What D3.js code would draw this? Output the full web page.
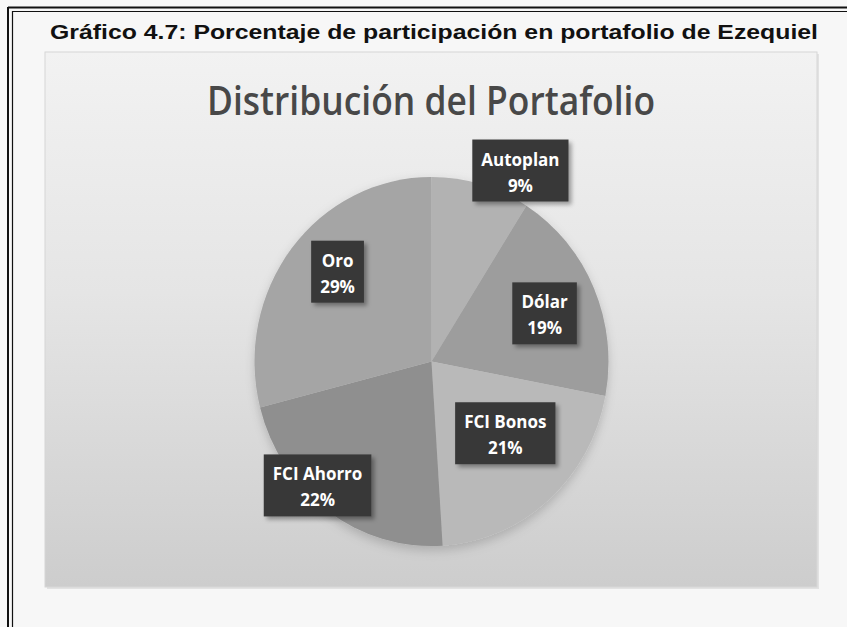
<!DOCTYPE html>
<html>
<head>
<meta charset="utf-8">
<script src="https://cdn.jsdelivr.net/npm/d3@7"></script>
<style>
  html, body { margin: 0; padding: 0; background: #f7f7f7; }
  svg { display: block; }
</style>
</head>
<body>
<svg id="chart" width="847" height="627"></svg>
<script>
// ---- data ----
const categories = ["Autoplan", "Dólar", "FCI Bonos", "FCI Ahorro", "Oro"];
const values = [9, 19, 21, 22, 29];
const percentLabels = ["9%", "19%", "21%", "22%", "29%"];
const sliceColors = ["#b2b2b2", "#9d9d9d", "#b9b9b9", "#8f8f8f", "#a5a5a5"];
const figureTitle = "Gráfico 4.7: Porcentaje de participación en portafolio de Ezequiel";
const chartTitle = "Distribución del Portafolio";

// ---- label layout config (radial factor, angular shift in degrees) ----
const labelRadiusFactor = [1.15, 0.69, 0.57, 0.93, 0.72];
const labelAngleShift = [9.7, 1.2, -5.6, 7.8, 4.7];

const W = 847, H = 627;
const svg = d3.select("#chart");
const defs = svg.append("defs");

// background gradient for chart area
const bg = defs.append("linearGradient").attr("id", "bgGrad")
  .attr("x1", 0).attr("y1", 0).attr("x2", 0).attr("y2", 1);
bg.append("stop").attr("offset", "0%").attr("stop-color", "#f2f2f2");
bg.append("stop").attr("offset", "45%").attr("stop-color", "#e5e5e5");
bg.append("stop").attr("offset", "100%").attr("stop-color", "#cdcdcd");

const shadow = defs.append("filter").attr("id", "boxShadow")
  .attr("x", "-20%").attr("y", "-20%").attr("width", "150%").attr("height", "150%");
shadow.append("feDropShadow").attr("dx", 3).attr("dy", 3).attr("stdDeviation", 2)
  .attr("flood-color", "#000").attr("flood-opacity", 0.35);

const pieShadow = defs.append("filter").attr("id", "pieShadow")
  .attr("x", "-20%").attr("y", "-20%").attr("width", "140%").attr("height", "140%");
pieShadow.append("feDropShadow").attr("dx", 0).attr("dy", 4).attr("stdDeviation", 5)
  .attr("flood-color", "#000").attr("flood-opacity", 0.18);

// page frame: double lines on left and top
svg.append("rect").attr("x", 0).attr("y", 0).attr("width", W).attr("height", H).attr("fill", "#f7f7f7");
const frame = svg.append("g").attr("stroke", "#111").attr("fill", "none");
frame.append("line").attr("x1", 8).attr("x2", W).attr("y1", 7.5).attr("y2", 7.5).attr("stroke-width", 2);
frame.append("line").attr("x1", 12).attr("x2", W).attr("y1", 11.5).attr("y2", 11.5).attr("stroke-width", 1.2);
frame.append("line").attr("x1", 8).attr("x2", 8).attr("y1", 7).attr("y2", H).attr("stroke-width", 2);
frame.append("line").attr("x1", 12.5).attr("x2", 12.5).attr("y1", 11).attr("y2", H).attr("stroke-width", 1.2);

// figure caption
svg.append("text")
  .attr("x", 434).attr("y", 39)
  .attr("text-anchor", "middle")
  .attr("font-family", "Liberation Sans, Arial, sans-serif")
  .attr("font-weight", "bold")
  .attr("font-size", 21)
  .attr("fill", "#111")
  .attr("textLength", 768)
  .attr("lengthAdjust", "spacingAndGlyphs")
  .text(figureTitle);

// chart area
const area = { x: 45, y: 52, w: 772, h: 535 };
svg.append("rect").attr("x", area.x + 2).attr("y", area.y + 2).attr("width", area.w).attr("height", area.h)
  .attr("fill", "#e2e2e2");
svg.append("rect").attr("x", area.x).attr("y", area.y).attr("width", area.w).attr("height", area.h)
  .attr("fill", "url(#bgGrad)").attr("stroke", "#d6d6d6").attr("stroke-width", 1);

// chart title
svg.append("text")
  .attr("x", 431).attr("y", 115)
  .attr("text-anchor", "middle")
  .attr("font-family", "Open Sans, Noto Sans, sans-serif")
  .attr("font-weight", 600)
  .attr("font-size", 40)
  .attr("fill", "#484848")
  .attr("textLength", 448)
  .attr("lengthAdjust", "spacingAndGlyphs")
  .text(chartTitle);

// pie
const cx = 431.5, cy = 361.5, r = 177, sy = 1.043;
const pie = d3.pie().sort(null).value(d => d.value);
const arcs = pie(categories.map((c, i) => ({ name: c, value: values[i], label: percentLabels[i], color: sliceColors[i], i })));
const arc = d3.arc().innerRadius(0).outerRadius(r);

const pg = svg.append("g")
  .attr("transform", `translate(${cx},${cy}) scale(1,${sy})`)
  .attr("filter", "url(#pieShadow)");
pg.selectAll("path").data(arcs).join("path")
  .attr("d", arc)
  .attr("fill", d => d.data.color)
  .attr("stroke", "none");

// labels
const lg = svg.append("g");
arcs.forEach((d, i) => {
  const mid = (d.startAngle + d.endAngle) / 2 + labelAngleShift[i] * Math.PI / 180;
  const dist = r * labelRadiusFactor[i];
  const lx = cx + Math.sin(mid) * dist;
  const ly = cy - Math.cos(mid) * dist * sy;
  const g = lg.append("g").attr("transform", `translate(${lx},${ly})`);
  const box = g.append("rect").attr("fill", "#383838").attr("filter", "url(#boxShadow)");
  const t = g.append("text")
    .attr("text-anchor", "middle")
    .attr("font-family", "Open Sans, Noto Sans, sans-serif")
    .attr("font-weight", "bold")
    .attr("font-size", 17)
    .attr("fill", "#ffffff");
  t.append("tspan").attr("x", 0).attr("y", -5).text(d.data.name);
  t.append("tspan").attr("x", 0).attr("y", 21).text(d.data.label);
  const bb = t.node().getBBox();
  const bw = bb.width + 18, bh = 62;
  box.attr("x", -bw / 2).attr("y", -bh / 2).attr("width", bw).attr("height", bh);
});
</script>
</body>
</html>
